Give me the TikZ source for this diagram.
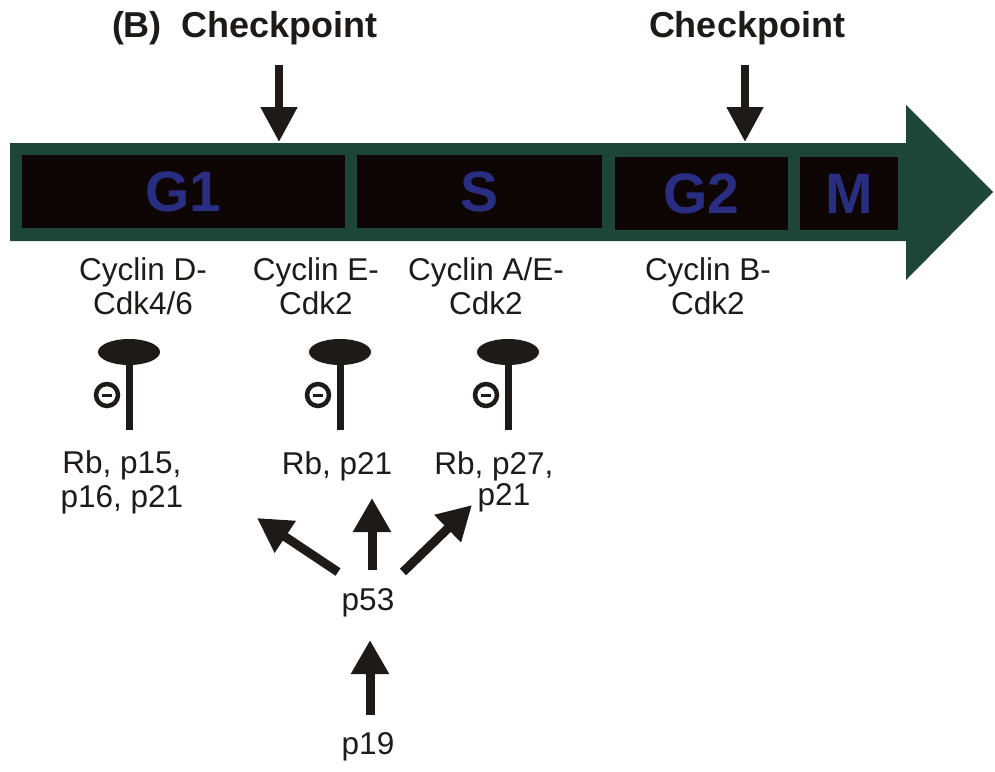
\documentclass[tikz,border=0pt]{standalone}
\usepackage{fontspec}
\setmainfont{Liberation Sans}
\usetikzlibrary{arrows.meta}

\definecolor{ink}{HTML}{1E1A1A}
\definecolor{bargreen}{HTML}{1D4538}
\definecolor{boxblack}{HTML}{0E0505}
\definecolor{phaseblue}{HTML}{2A2E82}

\tikzset{
  lbl/.style={font=\fontsize{31.5}{34}\selectfont, text=ink, align=center, inner sep=0pt},
  hdr/.style={font=\bfseries\fontsize{36}{36}\selectfont, text=ink, inner sep=0pt},
  phase/.style={fill=boxblack, inner sep=0pt, text=phaseblue,
    font=\bfseries\fontsize{57}{57}\selectfont},
  fat/.style={draw=ink, line width=9pt, -{Triangle[width=36pt,length=34pt]}},
  inhib/.pic={
    \fill[ink] (0,0) ellipse [x radius=31pt, y radius=13pt];
    \fill[ink] (-3.5,0) rectangle (3.5,78);
    \draw[ink, line width=4.5pt] (-22,43) circle [radius=11pt];
    \fill[ink] (-27,41.6) rectangle (-17,44.6);
  }
}

\begin{document}
\begin{tikzpicture}[x=1pt,y=-1pt]
\useasboundingbox[fill=white] (0,0) rectangle (995,771);

% cell-cycle arrow
\fill[bargreen] (10,143) -- (906,143) -- (906,105) -- (993,192)
  -- (906,280) -- (906,241) -- (10,241) -- cycle;

% phases
\node[phase, minimum width=323pt, minimum height=73pt] (g1) at (183.5,191.5) {G1};
\node[phase, minimum width=245pt, minimum height=73pt] (s)  at (479.5,191.5) {S};
\node[phase, minimum width=173pt, minimum height=73pt] (g2) at (701.5,193.5) {G2};
\node[phase, minimum width=98pt,  minimum height=73pt] (m)  at (849,193.5) {M};

% checkpoints
\node[hdr] (hb) at (245,28) {(B)\ \ Checkpoint};
\node[hdr] (hc) at (747,28) {Checkpoint};
\coordinate (cp1) at (279,65);
\coordinate (cp1e) at (279,142);
\coordinate (cp2) at (745,65);
\coordinate (cp2e) at (745,142);
\draw[draw=ink, line width=8pt, -{Triangle[width=35pt,length=35pt]}] (cp1) -- (cp1e);
\draw[draw=ink, line width=8pt, -{Triangle[width=35pt,length=35pt]}] (cp2) -- (cp2e);

% cyclin-cdk complexes
\node[lbl] (cd) at (143,286) {Cyclin D-\\Cdk4/6};
\node[lbl] (ce) at (316,286) {Cyclin E-\\Cdk2};
\node[lbl] (ca) at (486,286) {Cyclin A/E-\\Cdk2};
\node[lbl] (cb) at (708,286) {Cyclin B-\\Cdk2};

% inhibition symbols
\pic at (129,352) {inhib};
\pic at (340,352) {inhib};
\pic at (508,352) {inhib};

% inhibitors
\node[lbl] (r1) at (122,482) {Rb, p15,\\p16, p21};
\node[lbl] (r2) at (337,466) {Rb, p21};
\node[lbl] (r3) at (494,466) {Rb, p27,};
\node[lbl] (r3b) at (504,498) {p21};

% p53 / p19
\node[lbl] (p53) at (368,603) {p53};
\node[lbl] (p19) at (368,747) {p19};

\coordinate (tl) at (338,572);  \coordinate (hl) at (257,518);
\coordinate (tu) at (372,570);  \coordinate (hu) at (372,498);
\coordinate (tr) at (403,572);  \coordinate (hr) at (472,505);
\coordinate (t19) at (370,715); \coordinate (h19) at (370,640);
\draw[fat] (tl) -- (hl);
\draw[fat] (tu) -- (hu);
\draw[fat] (tr) -- (hr);
\draw[fat] (t19) -- (h19);
\end{tikzpicture}
\end{document}
